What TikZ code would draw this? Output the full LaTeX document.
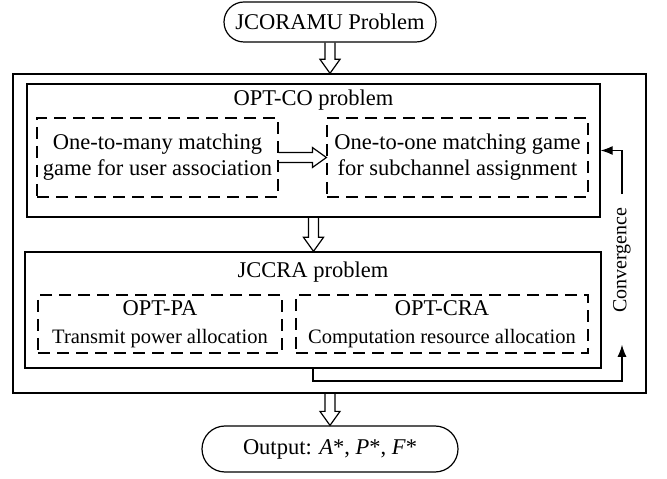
\documentclass[tikz,border=0pt]{standalone}
\usepackage{fontspec}
\setmainfont{Liberation Serif}
\usetikzlibrary{arrows.meta,calc,positioning}

\tikzset{
  pill/.style={draw,rectangle,rounded corners=20pt,minimum height=40pt,line width=1.2pt},
  solidbox/.style={draw,line width=1.3pt},
  dashbox/.style={draw,line width=1.2pt,dash pattern=on 12pt off 7pt,align=center},
  loopline/.style={line width=1.2pt,-{Latex[length=12pt,width=9pt]}},
}

% outlined block arrow from #1 to #2
\newcommand{\hollowarrow}[2]{%
  \coordinate (ha) at (#1);
  \coordinate (hb) at (#2);
  \coordinate (hh) at ($(hb)!14pt!(ha)$);
  \draw[line width=1.2pt,line join=miter] ($(ha)!5pt!90:(hb)$) -- ($(hh)!5pt!90:(hb)$)
    -- ($(hh)!10pt!90:(hb)$) -- (hb) -- ($(hh)!10pt!-90:(hb)$)
    -- ($(hh)!5pt!-90:(hb)$) -- ($(ha)!5pt!-90:(hb)$);
}

\begin{document}
\begin{tikzpicture}[x=1pt,y=1pt,font=\fontsize{22.5}{26}\selectfont]
\useasboundingbox (0,0) rectangle (667,479);

\node[pill,minimum width=212pt] (start) at (330,457) {JCORAMU Problem};
\node[solidbox,minimum width=633pt,minimum height=319pt] (outer) at (329.5,245.5) {};

% OPT-CO
\node[solidbox,minimum width=573pt,minimum height=133pt] (optco) at (313.5,328.5) {};
\node (cotitle) at ([yshift=-17pt]optco.north) {OPT-CO problem};
\node[dashbox,minimum width=241pt,minimum height=79pt] (um) at (157.5,321.5)
  {One-to-many matching\\game for user association};
\node[dashbox,minimum width=261pt,minimum height=79pt] (sm) at (457.5,321.5)
  {One-to-one matching game\\for subchannel assignment};

% JCCRA
\node[solidbox,minimum width=576pt,minimum height=116pt] (jccra) at (313,169) {};
\node (crtitle) at ([yshift=-21pt]jccra.north) {JCCRA problem};
\node[dashbox,minimum width=244pt,minimum height=58pt] (pa) at (160,155)
  {OPT-PA\\[2pt]{\fontsize{20.5}{24}\selectfont Transmit power allocation}};
\node[dashbox,minimum width=292pt,minimum height=58pt] (cra) at (442,155)
  {OPT-CRA\\[2pt]{\fontsize{20.5}{24}\selectfont Computation resource allocation}};

\node[pill,minimum width=256pt,minimum height=46pt,rounded corners=23pt] (finish) at (330,30)
  {Output: \textit{A}*, \textit{P}*, \textit{F}*};

\hollowarrow{start.south}{start.south |- outer.north}
\hollowarrow{um.east}{um.east -| sm.west}
\hollowarrow{optco.south}{optco.south |- jccra.north}
\hollowarrow{finish.north |- outer.south}{finish.north}

% convergence loop
\node[rotate=90,inner sep=0pt,font=\fontsize{20}{24}\selectfont] (conv) at (622,219) {Convergence};
\coordinate (loopc) at (622,98);
\draw[loopline] (jccra.south) |- (loopc) -- ([yshift=-32pt]conv.west);
\draw[loopline] ([yshift=13pt]conv.east) |- (optco.east);

\end{tikzpicture}
\end{document}
